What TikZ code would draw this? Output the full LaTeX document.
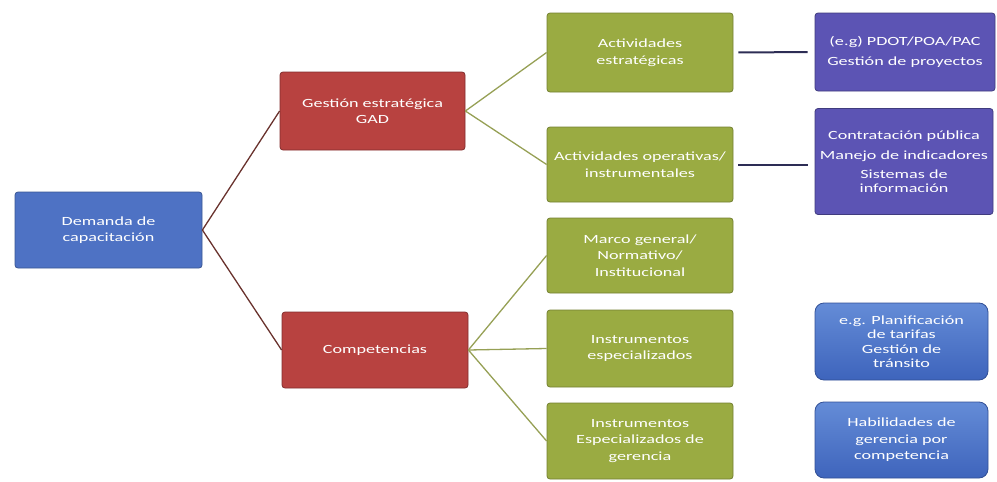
\documentclass[tikz,border=0pt]{standalone}
\usepackage{fontspec}
\setmainfont{Carlito}[FakeStretch=1.45]
\definecolor{cblue}{RGB}{78,114,196}
\definecolor{cred}{RGB}{184,66,64}
\definecolor{cgreen}{RGB}{154,171,66}
\definecolor{cpurple}{RGB}{92,84,180}
\definecolor{clbtop}{RGB}{100,140,215}
\definecolor{clbbot}{RGB}{62,100,188}
\definecolor{lbrown}{RGB}{105,50,45}
\definecolor{lolive}{RGB}{150,160,85}
\definecolor{lnavy}{RGB}{45,45,85}
\tikzset{
  box/.style={draw, line width=0.8pt, rounded corners=3pt, text=white, align=center,
    inner sep=2pt, font=\fontsize{12.5}{16.5}\selectfont},
  bluebox/.style={box, fill=cblue, draw=cblue!75!black},
  redbox/.style={box, fill=cred, draw=cred!70!black},
  greenbox/.style={box, fill=cgreen, draw=cgreen!75!black},
  purplebox/.style={box, fill=cpurple, draw=cpurple!70!black},
  lbbox/.style={box, rounded corners=9pt, top color=clbtop, bottom color=clbbot, draw=clbbot!80!black},
  linkA/.style={draw=lbrown, line width=1.3pt},
  linkB/.style={draw=lolive, line width=1.3pt},
  linkC/.style={draw=lnavy, line width=2pt, shorten <=5pt, shorten >=7pt}
}
\begin{document}
\begin{tikzpicture}[x=1pt,y=-1pt]
\useasboundingbox (0,0) rectangle (997,482);
\node[bluebox, minimum width=187pt, minimum height=76pt] (dem) at (108.5,230) {Demanda de\\capacitación};
\node[redbox, minimum width=185pt, minimum height=78pt] (gest) at (372.5,111) {Gestión estratégica\\GAD};
\node[redbox, minimum width=186pt, minimum height=76pt] (comp) at (375,350) {Competencias};
\node[greenbox, minimum width=186pt, minimum height=79pt] (ae) at (640,52.5) {Actividades\\estratégicas};
\node[greenbox, minimum width=186pt, minimum height=75pt] (ao) at (640,164.5) {Actividades operativas/\\instrumentales};
\node[greenbox, minimum width=186pt, minimum height=75pt] (mg) at (640,255.5) {Marco general/\\Normativo/\\Institucional};
\node[greenbox, minimum width=186pt, minimum height=77pt] (ie) at (640,348.5) {Instrumentos\\especializados};
\node[greenbox, minimum width=186pt, minimum height=76pt] (ig) at (640,441) {Instrumentos\\Especializados de\\gerencia};
\node[purplebox, minimum width=180pt, minimum height=78pt] (pdot) at (905,52) {(e.g) PDOT/POA/PAC\\[4pt]Gestión de proyectos};
\node[purplebox, minimum width=178pt, minimum height=106pt] (contr) at (904,161.5) {Contratación pública\\[3pt]Manejo de indicadores\\[3pt]Sistemas de\\[-3pt]información};
\node[lbbox, minimum width=173pt, minimum height=77pt] (plan) at (901.5,341.5) {e.g. Planificación\\[-2pt]de tarifas\\[-2pt]Gestión de\\[-2pt]tránsito};
\node[lbbox, minimum width=173pt, minimum height=76pt] (hab) at (901.5,440) {Habilidades de\\gerencia por\\competencia};
\draw[linkA] (dem.east) -- (gest.west);
\draw[linkA] (dem.east) -- (comp.west);
\draw[linkB] (gest.east) -- (ae.west);
\draw[linkB] (gest.east) -- (ao.west);
\draw[linkB] (comp.east) -- (mg.west);
\draw[linkB] (comp.east) -- (ie.west);
\draw[linkB] (comp.east) -- (ig.west);
\draw[linkC] (ae.east) -- (pdot.west);
\draw[linkC] (ao.east) -- (ao.east -| contr.west);
\end{tikzpicture}
\end{document}
